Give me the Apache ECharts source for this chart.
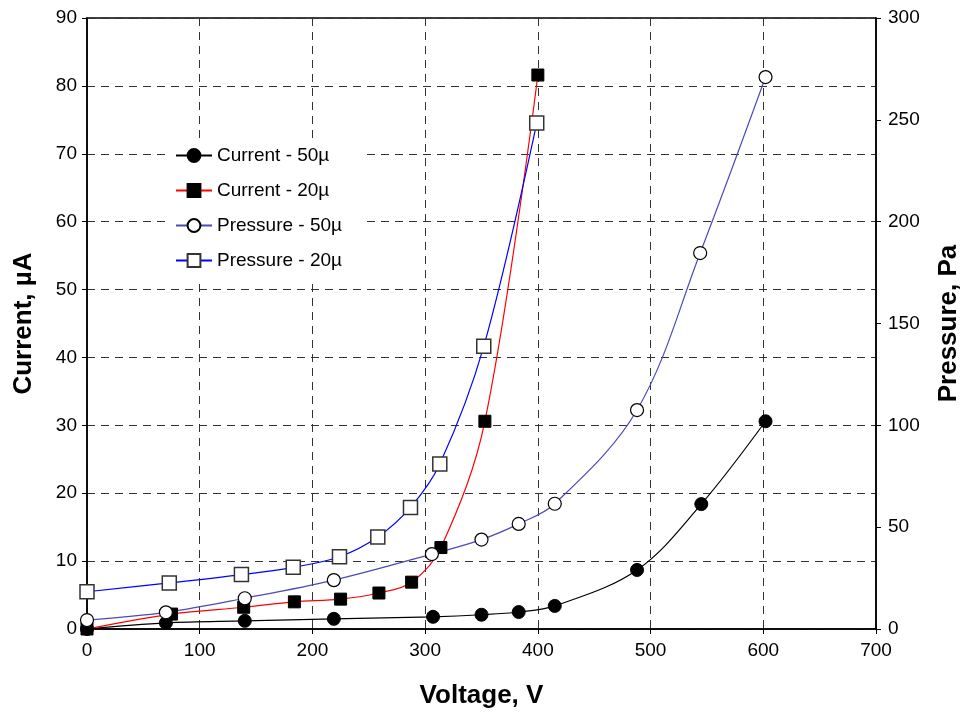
<!DOCTYPE html>
<html>
<head>
<meta charset="utf-8">
<script src="https://cdn.jsdelivr.net/npm/echarts@6/dist/echarts.min.js"></script>
<style>
  html, body { margin: 0; padding: 0; background: #fff; }
  #chart { width: 961px; height: 715px; }
</style>
</head>
<body>
<div id="chart"></div>
<script>
// data: [voltage V, value]
var current50 = [[0, 0], [70, 0.9], [140, 1.2], [219, 1.5], [307, 1.8], [350, 2.1], [383, 2.5], [415, 3.4], [488, 8.7], [545, 18.4], [602, 30.6]];
var current20 = [[0, 0], [75, 2.2], [139, 3.2], [184, 4.0], [225, 4.4], [259, 5.3], [288, 6.9], [314, 12.0], [353, 30.6], [400, 81.6]];
var pressure50 = [[0, 4.4], [70, 8.2], [140, 15.1], [219, 24], [306, 36.8], [350, 43.9], [383, 51.6], [415, 61.5], [488, 107.5], [544, 184.6], [602, 271]];
var pressure20 = [[0, 18.3], [73, 22.6], [137, 26.7], [183, 30.3], [224, 35.5], [258, 45.2], [287, 59.7], [313, 81], [352, 138.8], [399, 248.4]];

var chart = echarts.init(document.getElementById('chart'));

var gridLine = { show: true, lineStyle: { color: '#333', type: [8, 6], width: 1 } };
var txt = { color: '#000', fontFamily: 'Liberation Sans', fontSize: 19 };
var axisName = { color: '#000', fontFamily: 'Liberation Sans', fontSize: 26, fontWeight: 'bold' };
var tick = { show: true, inside: false, length: 5, lineStyle: { color: '#000' } };

var option = {
  animation: false,
  backgroundColor: '#fff',
  grid: {
    left: 87, right: 85, top: 18, bottom: 86, containLabel: false, outerBoundsMode: 'none',
    show: true, borderColor: '#000', borderWidth: 1.5, backgroundColor: 'transparent'
  },
  legend: {
    orient: 'vertical',
    left: 165,
    top: 138,
    padding: [8, 20, 8, 10],
    backgroundColor: '#fff',
    itemGap: 16,
    itemWidth: 36,
    itemHeight: 16,
    textStyle: { color: '#000', fontFamily: 'Liberation Sans', fontSize: 19 },
    data: ['Current - 50µ', 'Current - 20µ', 'Pressure - 50µ', 'Pressure - 20µ']
  },
  xAxis: {
    type: 'value', min: 0, max: 700, interval: 100,
    name: 'Voltage, V', nameLocation: 'middle', nameGap: 54, nameTextStyle: axisName,
    axisLine: { onZero: false, lineStyle: { color: '#000', width: 1.5 } },
    axisTick: tick,
    axisLabel: Object.assign({ margin: 12 }, txt),
    splitLine: gridLine
  },
  yAxis: [{
    type: 'value', min: 0, max: 90, interval: 10,
    name: 'Current, µA', nameLocation: 'middle', nameGap: 50, nameRotate: 90, nameTextStyle: axisName,
    axisLine: { show: true, lineStyle: { color: '#000', width: 1.5 } },
    axisTick: tick,
    axisLabel: Object.assign({ margin: 10 }, txt),
    splitLine: gridLine
  }, {
    type: 'value', min: 0, max: 300, interval: 50,
    name: 'Pressure, Pa', nameLocation: 'middle', nameGap: 60, nameRotate: 90, nameTextStyle: axisName,
    position: 'right',
    axisLine: { show: true, lineStyle: { color: '#000', width: 1.5 } },
    axisTick: tick,
    axisLabel: Object.assign({ margin: 12 }, txt),
    splitLine: { show: false }
  }],
  series: [{
    name: 'Current - 50µ', type: 'line', data: current50, yAxisIndex: 0,
    smooth: 0.35,
    symbol: 'circle', symbolSize: 13,
    lineStyle: { color: '#000', width: 1.2 },
    itemStyle: { color: '#000', borderColor: '#000', borderWidth: 1 }
  }, {
    name: 'Current - 20µ', type: 'line', data: current20, yAxisIndex: 0,
    smooth: 0.35,
    symbol: 'rect', symbolSize: 12,
    lineStyle: { color: '#ff0000', width: 1.2 },
    itemStyle: { color: '#000', borderColor: '#000', borderWidth: 1 }
  }, {
    name: 'Pressure - 50µ', type: 'line', data: pressure50, yAxisIndex: 1,
    smooth: 0.35,
    symbol: 'circle', symbolSize: 13,
    lineStyle: { color: '#4a4ab8', width: 1.2 },
    itemStyle: { color: '#fff', borderColor: '#000', borderWidth: 1.2 }
  }, {
    name: 'Pressure - 20µ', type: 'line', data: pressure20, yAxisIndex: 1,
    smooth: 0.35,
    symbol: 'rect', symbolSize: 14,
    lineStyle: { color: '#0000ff', width: 1.2 },
    itemStyle: { color: '#fff', borderColor: '#333', borderWidth: 1.5 }
  }]
};

chart.setOption(option);
</script>
</body>
</html>
